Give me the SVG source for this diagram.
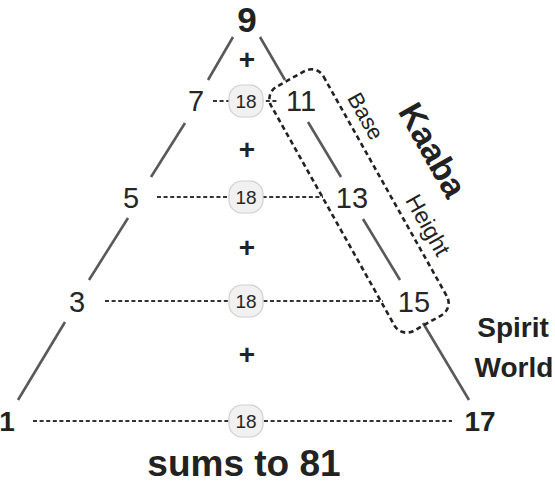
<svg xmlns="http://www.w3.org/2000/svg" width="555" height="484" viewBox="0 0 555 484">
<style>
.edge{stroke:#595959;stroke-width:2.6;stroke-linecap:butt;fill:none}
.dash{stroke:#333;stroke-width:2;stroke-dasharray:4 2.6;fill:none}
.box{stroke:#222;stroke-width:2.6;stroke-dasharray:5 3.5;fill:none}
.num{font-family:"Liberation Sans",Arial,sans-serif;font-size:29px;fill:#262626;text-anchor:middle}
.bnum{font-family:"Liberation Sans",Arial,sans-serif;font-weight:bold;fill:#222;text-anchor:middle}
.badge rect{fill:#f1f1f1;stroke:#cfcfcf;stroke-width:1.2}
.badge text{font-family:"Liberation Sans",Arial,sans-serif;font-size:19px;fill:#262626;text-anchor:middle}
.plus{font-family:"Liberation Sans",Arial,sans-serif;font-weight:bold;font-size:28px;fill:#222;text-anchor:middle}
.lbl{font-family:"Liberation Sans",Arial,sans-serif;fill:#222;text-anchor:middle}
</style>
<g id="connectors">
<line class="edge" x1="233" y1="37" x2="208" y2="80"/>
<line class="edge" x1="185" y1="123" x2="151" y2="177"/>
<line class="edge" x1="128" y1="218" x2="89" y2="280"/>
<line class="edge" x1="65" y1="322" x2="18" y2="400"/>
<line class="edge" x1="260" y1="37" x2="285" y2="80"/>
<line class="edge" x1="308" y1="122" x2="341" y2="177"/>
<line class="edge" x1="363" y1="219" x2="400" y2="280"/>
<line class="edge" x1="423" y1="323" x2="469" y2="400"/>
<line class="dash" x1="213" y1="101" x2="278" y2="101"/>
<line class="dash" x1="157" y1="197" x2="323" y2="197"/>
<line class="dash" x1="105" y1="301" x2="383" y2="301"/>
<line class="dash" x1="33" y1="421" x2="452" y2="421"/>
</g>
<g id="kaaba-box">
<rect class="box" transform="translate(359,201) rotate(60.7)" x="-140" y="-30" width="280" height="60" rx="14"/>
</g>
<g id="n9"><text class="bnum" x="247" y="32" font-size="35">9</text></g>
<g id="n7"><text class="num" x="196" y="111">7</text></g>
<g id="n11"><text class="num" x="301" y="111">11</text></g>
<g id="n5"><text class="num" x="131" y="208">5</text></g>
<g id="n13"><text class="num" x="352" y="208">13</text></g>
<g id="n3"><text class="num" x="77" y="312">3</text></g>
<g id="n15"><text class="num" x="414" y="312">15</text></g>
<g id="n1"><text class="bnum" x="7" y="431" font-size="28">1</text></g>
<g id="n17"><text class="bnum" x="480" y="431" font-size="28">17</text></g>
<g id="badge1" class="badge"><rect x="229" y="85" width="34" height="32" rx="13"/><text x="246" y="108">18</text></g>
<g id="badge2" class="badge"><rect x="229" y="181" width="34" height="32" rx="13"/><text x="246" y="204">18</text></g>
<g id="badge3" class="badge"><rect x="229" y="285" width="34" height="32" rx="13"/><text x="246" y="308">18</text></g>
<g id="badge4" class="badge"><rect x="229" y="405" width="34" height="32" rx="13"/><text x="246" y="428">18</text></g>
<g id="plus1"><text class="plus" x="247" y="69">+</text></g>
<g id="plus2"><text class="plus" x="247" y="159">+</text></g>
<g id="plus3"><text class="plus" x="247" y="257">+</text></g>
<g id="plus4"><text class="plus" x="247" y="364">+</text></g>
<g id="kaaba-label"><text class="lbl" font-weight="bold" font-size="34" transform="translate(433,150) rotate(60.7)" y="12">Kaaba</text></g>
<g id="base-label"><text class="lbl" font-size="22" transform="translate(366,116) rotate(60.7)" y="8">Base</text></g>
<g id="height-label"><text class="lbl" font-size="23" transform="translate(428,225) rotate(60.7)" y="8">Height</text></g>
<g id="spirit-world"><text class="lbl" font-weight="bold" font-size="28" x="513" y="337">Spirit</text><text class="lbl" font-weight="bold" font-size="28" x="514" y="377">World</text></g>
<g id="sums"><text class="lbl" font-weight="bold" font-size="37" x="244" y="476">sums to 81</text></g>
</svg>
